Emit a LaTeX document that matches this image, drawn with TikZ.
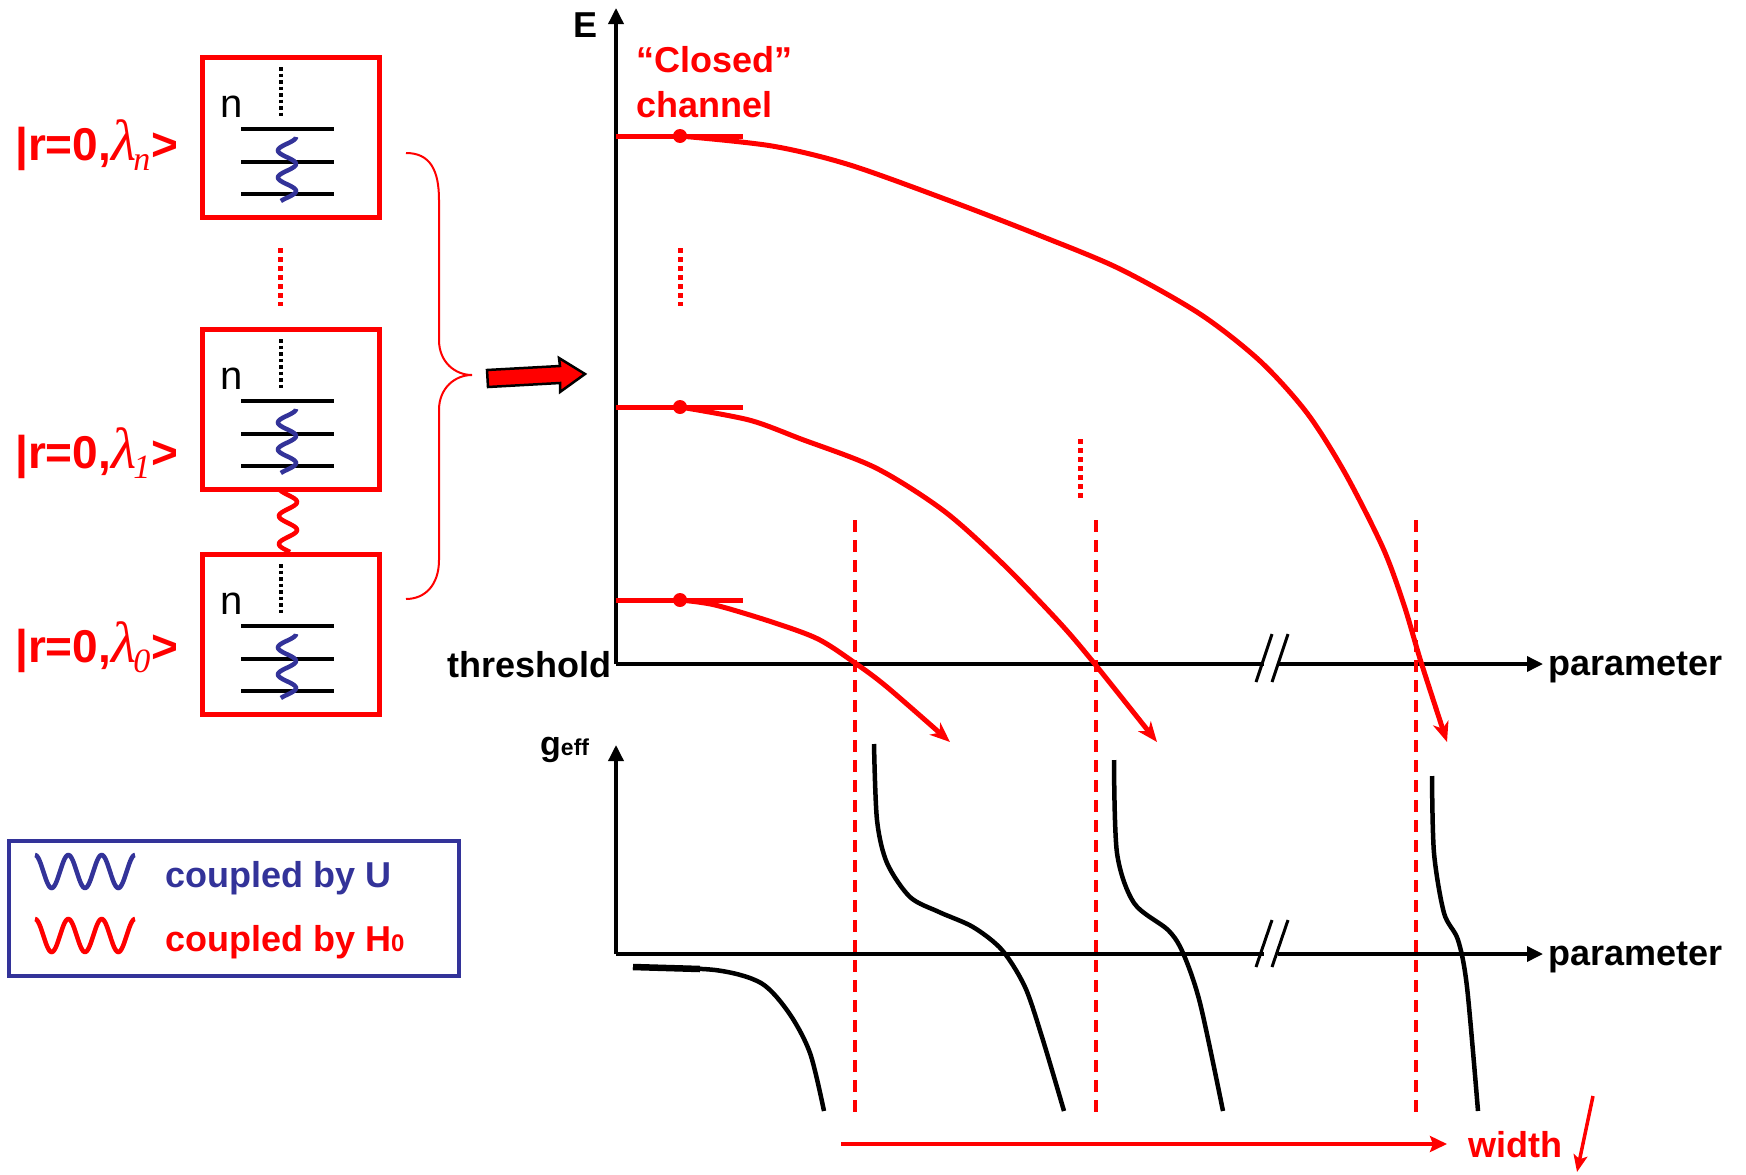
\documentclass[tikz,border=0pt]{standalone}
\usepackage{fontspec}
\setmainfont{Liberation Sans}
\newfontfamily\timesfont{Liberation Serif}
\usetikzlibrary{arrows.meta}

\definecolor{pptred}{RGB}{255,0,0}
\definecolor{pptblue}{RGB}{51,51,153}
\newcommand{\fsz}[1]{\fontsize{#1}{#1}\selectfont}
\newcommand{\lamlabel}[1]{|r=0,{\timesfont\mdseries\itshape\fsz{58}λ}\kern-3pt\raisebox{-10pt}{\timesfont\mdseries\itshape\fsz{34}#1}\kern1pt>}

\begin{document}
\begin{tikzpicture}[x=1pt, y=-1pt,
  statebox/.style={draw=pptred, line width=5pt, minimum width=177pt, minimum height=160pt, inner sep=0pt, anchor=north west},
  rung/.style={line width=4pt},
  ladderdots/.style={line width=3.5pt, dash pattern=on 3.5pt off 3pt},
  reddots/.style={pptred, line width=5pt, dash pattern=on 5pt off 4pt},
  axisline/.style={line width=3.5pt},
  axisarrow/.style={line width=3.5pt, -{Triangle[length=16pt,width=15pt]}},
  flow/.style={pptred, line width=5pt, line join=round, -{Stealth[length=20pt,width=16pt,inset=6pt]}},
  gline/.style={line width=4.5pt, line join=round},
  guide/.style={pptred, line width=3.5pt, dash pattern=on 12pt off 8pt},
  lbl/.style={inner sep=0pt, anchor=base west},
  bigtxt/.style={lbl, font=\fsz{36}\bfseries},
  statelbl/.style={lbl, text=pptred, font=\fsz{46}\bfseries},
  level/.style={pptred, line width=5pt},
  leveldot/.style={circle, fill=pptred, inner sep=0pt, minimum size=14pt},
  breakmark/.style={line width=3pt},
  wave/.style={line width=4.5pt}
]
\useasboundingbox (0,0) rectangle (1746,1175);

% ---------- ladder boxes ----------
\foreach \t/\nm in {55/N,327/A,552/Z}{
  \node[statebox] (box\nm) at (200,\t) {};
  \node[lbl, font=\fsz{40}] (n\nm) at (220,\t+62) {n};
  \draw[ladderdots] (281,\t+12) -- (281,\t+62);
  \foreach \d in {74,107,139} \draw[rung] (241,\t+\d) -- (334,\t+\d);
  \draw[pptblue, wave] plot[domain=0:64, samples=90, smooth] ({287+9*cos(\x/27*360)}, {\t+82+\x});
}

% state labels
\node[statelbl] (labN) at (15,160) {\lamlabel{n}};
\node[statelbl] (labA) at (15,468) {\lamlabel{1}};
\node[statelbl] (labZ) at (15,662) {\lamlabel{0}};

% dots between the upper boxes
\draw[reddots] (280,248) -- (280,306);

% H0 coupling between box 1 and box 0
\draw[pptred, wave] plot[domain=0:63, samples=90, smooth] ({288+9*sin((\x-6)/28*360)}, {489+\x});

% brace
\draw[pptred, line width=2pt] (406,153) .. controls (430,153) and (439,170) .. (439,200)
  -- (439,340) .. controls (439,362) and (455,375) .. (472,375)
  .. controls (455,375) and (439,388) .. (439,410)
  -- (439,560) .. controls (439,585) and (425,599) .. (406,599);

% block arrow
\draw[fill=pptred, line width=2.5pt, line join=miter] (487,370) -- (560,366) -- (559,358) -- (585,374)
  -- (560,392) -- (560,383) -- (488,387) -- cycle;

% ---------- legend ----------
\node[draw=pptblue, line width=3.5pt, minimum width=450pt, minimum height=135pt, inner sep=0pt, anchor=north west] (legend) at (7,839) {};
\draw[pptblue, wave] plot[domain=0:100, samples=120, smooth] ({35+\x}, {871.5-16.5*cos(\x/33.33*360)});
\draw[pptred, wave] plot[domain=0:100, samples=120, smooth] ({35+\x}, {935.5-16.5*cos(\x/33.33*360)});
\node[bigtxt, text=pptblue] (legU) at (165,887) {coupled by U};
\node[bigtxt, text=pptred] (legH) at (165,951) {coupled by H{\fsz{24}0}};

% ---------- upper panel: energy levels ----------
\coordinate (O1) at (616,664);
\coordinate (Etop) at (616,8);
\draw[axisarrow] (O1) -- (Etop);
\draw[axisline] (O1) -- (1264,664);
\draw[axisarrow] (1278,664) -- (1543,664);
\draw[breakmark] (1256,682) -- (1272,634);
\draw[breakmark] (1272,682) -- (1288,634);

\node[bigtxt] (Elab) at (573,37) {E};
\node[lbl, font=\fsz{36}\bfseries, anchor=base east] (thr) at (612,677) {threshold};
\node[bigtxt] (par1) at (1548,675) {parameter};
\node[bigtxt, text=pptred] (closed) at (636,72) {“Closed”};
\node[bigtxt, text=pptred] (chan) at (636,117) {channel};

\draw[level] (616,136) -- (743,136);
\draw[level] (616,407) -- (743,407);
\draw[level] (616,600) -- (743,600);
\node[leveldot] (dotN) at (680,136) {};
\node[leveldot] (dotA) at (680,407) {};
\node[leveldot] (dotZ) at (680,600) {};

\draw[reddots] (680,248) -- (680,306);
\draw[reddots] (1080,439) -- (1080,498);

% resonance guides
\foreach \gx in {855,1096,1416} \draw[guide] (\gx,520) -- (\gx,1112);

% level trajectories
\draw[flow] plot[smooth] coordinates {(dotN.center) (772,146) (850,165) (953,202) (1041,236) (1120,269) (1200,314) (1260,361) (1307,413) (1345,473) (1383,548) (1404,605) (1421,662) (1447,742)};
\draw[flow] plot[smooth] coordinates {(dotA.center) (749,420) (801,439) (876,468) (944,511) (1002,563) (1059,622) (1094,663) (1157,742)};
\draw[flow] plot[smooth] coordinates {(dotZ.center) (715,605) (772,622) (818,639) (855,663) (887,687) (950,742)};

% ---------- lower panel: effective coupling ----------
\coordinate (O2) at (616,954);
\draw[axisarrow] (O2) -- (616,745);
\draw[axisline] (O2) -- (1264,954);
\draw[axisarrow] (1278,954) -- (1543,954);
\draw[breakmark] (1256,967) -- (1272,920);
\draw[breakmark] (1272,967) -- (1288,920);

\node[lbl, font=\bfseries] (glab) at (540,755) {{\fsz{34}g}{\fsz{23}eff}};
\node[bigtxt] (par2) at (1548,965) {parameter};

\draw[gline] plot[smooth] coordinates {(633,967) (715,970) (761,983) (789,1013) (810,1053) (824,1111)};
\draw[line width=6.5pt] (633,967) -- (700,969);
\draw[gline] plot[smooth] coordinates {(874,744) (877,820) (887,863) (910,897) (939,912) (973,927) (1002,950) (1025,987) (1042,1037) (1064,1111)};
\draw[gline] plot[smooth] coordinates {(1114,760) (1117,853) (1134,903) (1168,930) (1183,953) (1200,1003) (1223,1111)};
\draw[gline] plot[smooth] coordinates {(1432,776) (1434,853) (1444,913) (1458,940) (1467,987) (1478,1111)};

% width trend
\coordinate (wstart) at (841,1144);
\coordinate (wend) at (1447,1144);
\draw[pptred, line width=3.5pt, -{Stealth[length=17pt,width=16pt,inset=3pt]}] (wstart) -- (wend);
\node[bigtxt, text=pptred] (wlab) at (1468,1157) {width};
\coordinate (dtop) at (1593,1096);
\coordinate (dbot) at (1577,1172);
\draw[pptred, line width=3.5pt, -{Stealth[length=17pt,width=14pt,inset=4pt]}] (dtop) -- (dbot);
\end{tikzpicture}
\end{document}
